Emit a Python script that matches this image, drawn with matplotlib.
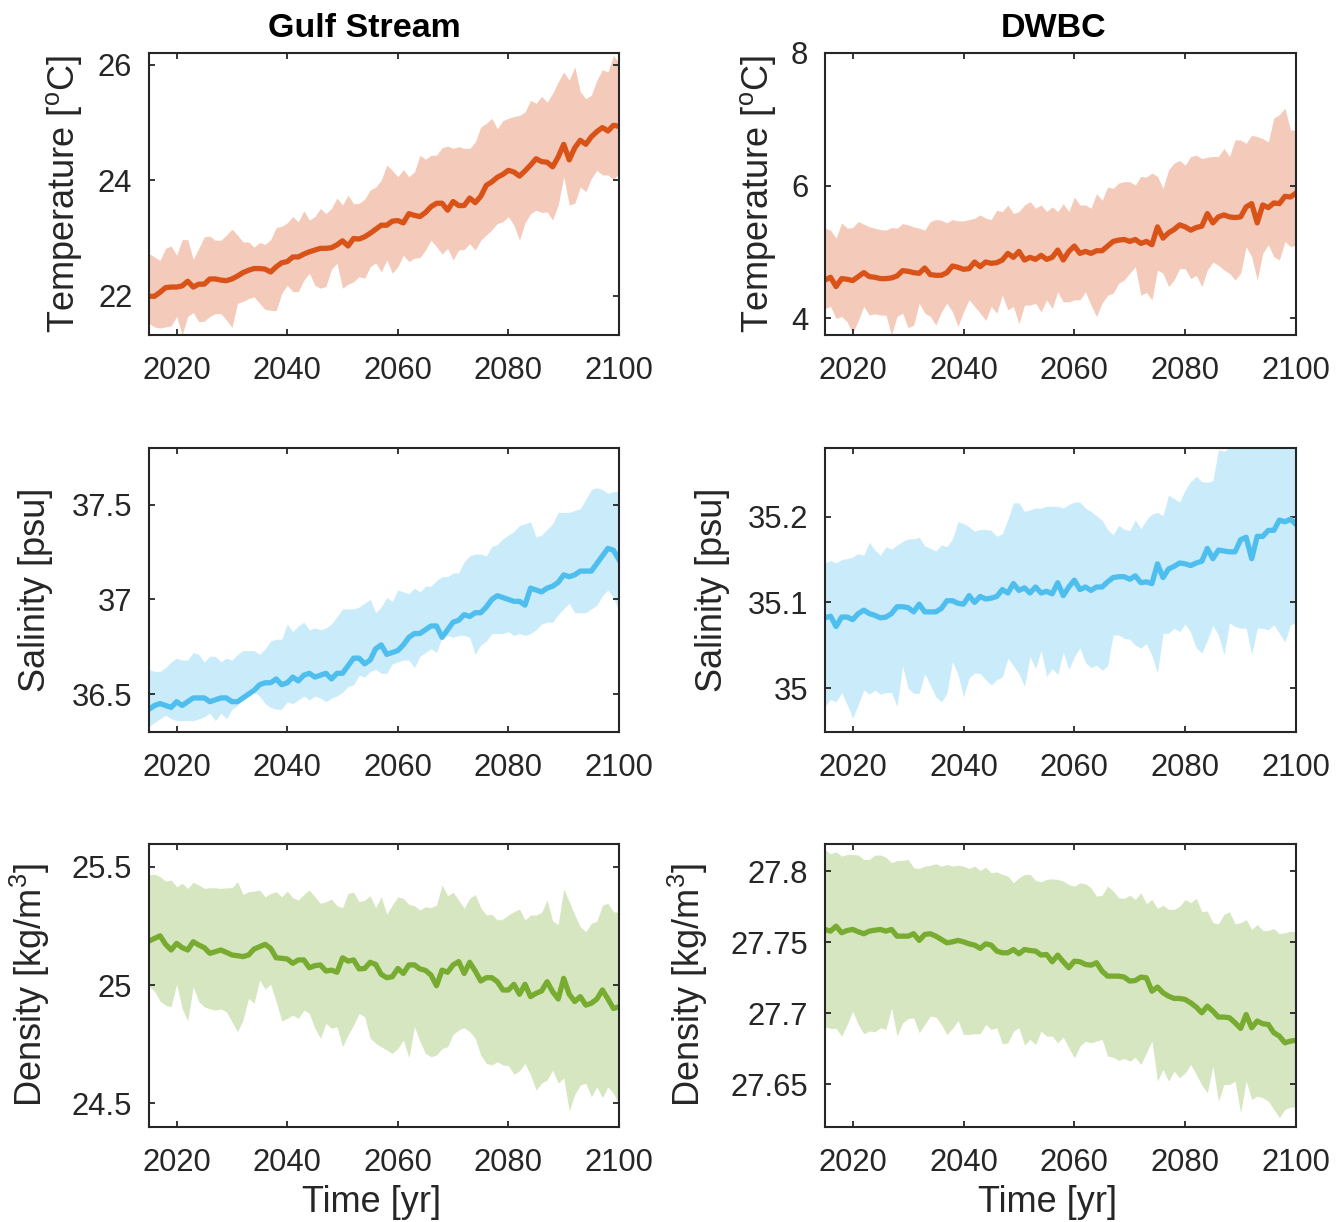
import numpy as np
import matplotlib
matplotlib.use('Agg')
import matplotlib.pyplot as plt
from matplotlib.ticker import FuncFormatter

plt.rcParams['font.family'] = ['Liberation Sans', 'DejaVu Sans']
plt.rcParams['mathtext.fontset'] = 'custom'
plt.rcParams['mathtext.rm'] = 'Liberation Sans'
plt.rcParams['mathtext.it'] = 'Liberation Sans'

years = np.arange(2015, 2101)

# Gulf Stream temperature
gs_temp_mean = [21.99, 21.99, 22.06, 22.14, 22.15, 22.15, 22.17, 22.25, 22.15, 22.20,
                22.20, 22.29, 22.29, 22.27, 22.26, 22.29, 22.34, 22.40, 22.44, 22.47,
                22.47, 22.46, 22.41, 22.50, 22.57, 22.59, 22.67, 22.67, 22.72, 22.76,
                22.79, 22.82, 22.82, 22.83, 22.88, 22.95, 22.86, 22.99, 22.98, 23.02,
                23.08, 23.15, 23.22, 23.22, 23.29, 23.30, 23.26, 23.42, 23.39, 23.37,
                23.44, 23.54, 23.60, 23.60, 23.48, 23.63, 23.56, 23.56, 23.69, 23.61,
                23.72, 23.91, 23.97, 24.05, 24.10, 24.17, 24.14, 24.07, 24.16, 24.26,
                24.37, 24.32, 24.31, 24.23, 24.40, 24.62, 24.35, 24.56, 24.69, 24.62,
                24.75, 24.84, 24.91, 24.85, 24.95, 24.93]
gs_temp_hi = [22.73, 22.67, 22.61, 22.82, 22.86, 22.70, 22.97, 22.97, 22.63, 22.82,
              23.02, 23.03, 22.96, 22.96, 23.05, 23.15, 23.05, 22.93, 22.93, 22.84,
              22.92, 22.89, 22.97, 23.18, 23.20, 23.26, 23.37, 23.28, 23.47, 23.31,
              23.37, 23.51, 23.42, 23.51, 23.69, 23.57, 23.74, 23.59, 23.60, 23.67,
              23.83, 23.88, 24.00, 24.26, 24.17, 24.06, 24.18, 24.06, 24.14, 24.43,
              24.36, 24.43, 24.43, 24.56, 24.59, 24.55, 24.58, 24.55, 24.55, 24.66,
              24.92, 24.98, 25.07, 24.89, 25.03, 25.07, 25.10, 25.12, 25.18, 25.38,
              25.33, 25.45, 25.35, 25.50, 25.70, 25.87, 25.73, 25.96, 25.53, 25.41,
              25.47, 25.73, 25.91, 25.87, 26.16, 26.02]
gs_temp_lo = [21.52, 21.46, 21.44, 21.46, 21.48, 21.64, 21.32, 21.64, 21.71, 21.55,
              21.56, 21.64, 21.69, 21.69, 21.58, 21.45, 21.87, 21.90, 21.95, 21.98,
              21.87, 21.76, 21.75, 21.74, 22.04, 22.18, 22.07, 22.07, 22.27, 22.39,
              22.18, 22.13, 22.16, 22.46, 22.56, 22.13, 22.20, 22.24, 22.33, 22.30,
              22.50, 22.57, 22.41, 22.62, 22.39, 22.50, 22.70, 22.59, 22.65, 22.66,
              22.79, 22.96, 22.85, 22.72, 22.82, 22.62, 22.79, 22.80, 22.90, 22.79,
              22.96, 23.05, 23.14, 23.25, 23.28, 23.37, 23.22, 22.96, 23.26, 23.42,
              23.48, 23.44, 23.45, 23.31, 23.57, 24.06, 23.57, 23.60, 23.88, 23.80,
              24.03, 24.17, 24.09, 24.09, 24.01, 24.12]

# DWBC temperature
dw_temp_mean = [4.58, 4.62, 4.48, 4.60, 4.59, 4.57, 4.63, 4.69, 4.63, 4.62,
                4.60, 4.60, 4.61, 4.64, 4.72, 4.71, 4.69, 4.68, 4.76, 4.66,
                4.65, 4.65, 4.69, 4.79, 4.77, 4.74, 4.75, 4.85, 4.78, 4.85,
                4.83, 4.84, 4.88, 4.98, 4.92, 5.01, 4.88, 4.92, 4.89, 4.95,
                4.89, 4.92, 5.03, 4.88, 5.01, 5.09, 4.98, 5.01, 4.98, 5.02,
                5.02, 5.09, 5.16, 5.18, 5.19, 5.16, 5.19, 5.13, 5.16, 5.11,
                5.38, 5.21, 5.29, 5.34, 5.41, 5.38, 5.33, 5.37, 5.39, 5.58,
                5.44, 5.53, 5.56, 5.53, 5.52, 5.53, 5.68, 5.73, 5.44, 5.71,
                5.67, 5.74, 5.73, 5.84, 5.83, 5.89]
dw_temp_hi = [5.36, 5.33, 5.21, 5.44, 5.36, 5.37, 5.46, 5.42, 5.38, 5.36,
              5.34, 5.33, 5.37, 5.36, 5.43, 5.41, 5.38, 5.36, 5.33, 5.46,
              5.49, 5.48, 5.44, 5.49, 5.47, 5.47, 5.49, 5.51, 5.56, 5.51,
              5.49, 5.63, 5.61, 5.71, 5.58, 5.61, 5.71, 5.76, 5.66, 5.71,
              5.61, 5.68, 5.61, 5.73, 5.61, 5.83, 5.71, 5.71, 5.66, 5.88,
              5.78, 5.98, 5.96, 6.04, 6.06, 6.06, 6.01, 6.14, 6.13, 6.19,
              6.14, 5.96, 6.24, 6.34, 6.38, 6.31, 6.44, 6.46, 6.41, 6.43,
              6.44, 6.44, 6.56, 6.44, 6.69, 6.69, 6.64, 6.76, 6.74, 6.71,
              6.66, 7.02, 7.07, 7.17, 6.84, 6.84]
dw_temp_lo = [4.15, 4.18, 4.00, 4.03, 3.95, 3.77, 3.97, 4.18, 4.05, 4.07,
              4.05, 4.05, 3.75, 4.03, 4.08, 3.86, 3.90, 4.23, 4.08, 4.03,
              3.90, 4.10, 4.23, 4.10, 3.88, 4.10, 4.28, 4.18, 4.08, 3.97,
              4.18, 4.08, 4.35, 4.13, 4.18, 3.92, 4.20, 4.20, 4.23, 4.10,
              4.28, 4.15, 4.40, 4.25, 4.25, 4.28, 4.28, 4.40, 4.20, 4.03,
              4.23, 4.35, 4.38, 4.53, 4.58, 4.68, 4.78, 4.35, 4.39, 4.28,
              4.73, 4.68, 4.48, 4.58, 4.75, 4.75, 4.60, 4.65, 4.48, 4.73,
              4.85, 4.80, 4.73, 4.68, 4.58, 4.68, 5.08, 4.93, 4.58, 4.98,
              5.11, 4.93, 4.88, 5.16, 5.08, 5.11]

# Gulf Stream salinity
gs_sal_mean = [36.42, 36.44, 36.45, 36.44, 36.43, 36.46, 36.44, 36.46, 36.48, 36.48,
               36.48, 36.46, 36.47, 36.48, 36.48, 36.46, 36.46, 36.48, 36.50, 36.52,
               36.55, 36.56, 36.56, 36.58, 36.55, 36.56, 36.59, 36.57, 36.60, 36.61,
               36.59, 36.60, 36.61, 36.58, 36.61, 36.61, 36.65, 36.69, 36.69, 36.66,
               36.68, 36.74, 36.76, 36.71, 36.72, 36.73, 36.76, 36.80, 36.82, 36.82,
               36.84, 36.86, 36.86, 36.80, 36.84, 36.88, 36.89, 36.92, 36.91, 36.93,
               36.93, 36.96, 37.00, 37.02, 37.01, 37.00, 36.99, 36.99, 36.97, 37.06,
               37.05, 37.04, 37.06, 37.07, 37.09, 37.13, 37.12, 37.13, 37.15, 37.15,
               37.15, 37.19, 37.23, 37.27, 37.26, 37.21]
gs_sal_hi = [36.63, 36.62, 36.62, 36.64, 36.67, 36.69, 36.68, 36.68, 36.72, 36.71,
             36.67, 36.70, 36.70, 36.67, 36.69, 36.68, 36.71, 36.73, 36.73, 36.73,
             36.71, 36.74, 36.78, 36.79, 36.79, 36.87, 36.83, 36.86, 36.88, 36.84,
             36.85, 36.84, 36.85, 36.87, 36.91, 36.95, 36.95, 36.95, 36.96, 36.98,
             37.00, 36.93, 36.96, 37.01, 36.99, 37.05, 37.04, 37.03, 37.06, 37.04,
             37.07, 37.07, 37.10, 37.12, 37.12, 37.14, 37.14, 37.20, 37.23, 37.24,
             37.24, 37.23, 37.28, 37.29, 37.32, 37.34, 37.36, 37.39, 37.40, 37.41,
             37.33, 37.34, 37.37, 37.40, 37.46, 37.46, 37.46, 37.47, 37.48, 37.53,
             37.58, 37.59, 37.58, 37.56, 37.57, 37.57]
gs_sal_lo = [36.33, 36.35, 36.37, 36.39, 36.37, 36.36, 36.36, 36.36, 36.36, 36.37,
             36.38, 36.40, 36.36, 36.40, 36.37, 36.42, 36.44, 36.49, 36.52, 36.51,
             36.49, 36.45, 36.43, 36.42, 36.42, 36.46, 36.45, 36.47, 36.49, 36.47,
             36.49, 36.48, 36.46, 36.48, 36.49, 36.51, 36.54, 36.55, 36.60, 36.59,
             36.62, 36.63, 36.61, 36.61, 36.66, 36.67, 36.68, 36.68, 36.64, 36.70,
             36.72, 36.74, 36.72, 36.80, 36.81, 36.80, 36.81, 36.81, 36.80, 36.71,
             36.76, 36.78, 36.82, 36.82, 36.82, 36.83, 36.81, 36.82, 36.81, 36.82,
             36.84, 36.87, 36.88, 36.88, 36.92, 36.95, 36.98, 36.93, 36.93, 36.93,
             36.95, 36.97, 37.02, 37.05, 37.01, 36.94]

# DWBC salinity
dw_sal_mean = [35.082, 35.084, 35.072, 35.083, 35.083, 35.080, 35.087, 35.091, 35.087, 35.085,
               35.082, 35.083, 35.087, 35.095, 35.095, 35.094, 35.089, 35.098, 35.089, 35.089,
               35.089, 35.093, 35.102, 35.102, 35.099, 35.098, 35.108, 35.100, 35.107, 35.104,
               35.105, 35.107, 35.115, 35.111, 35.122, 35.114, 35.117, 35.111, 35.118, 35.111,
               35.113, 35.110, 35.123, 35.108, 35.118, 35.126, 35.115, 35.118, 35.114, 35.118,
               35.118, 35.124, 35.129, 35.130, 35.130, 35.127, 35.131, 35.123, 35.124, 35.122,
               35.145, 35.129, 35.139, 35.142, 35.146, 35.145, 35.143, 35.146, 35.148, 35.163,
               35.151, 35.161, 35.160, 35.159, 35.159, 35.173, 35.176, 35.151, 35.177, 35.177,
               35.184, 35.184, 35.196, 35.194, 35.197, 35.191]
dw_sal_hi = [35.146, 35.149, 35.146, 35.150, 35.151, 35.153, 35.157, 35.155, 35.170, 35.161,
             35.155, 35.165, 35.162, 35.167, 35.171, 35.174, 35.174, 35.176, 35.166, 35.163,
             35.160, 35.167, 35.165, 35.174, 35.194, 35.192, 35.188, 35.183, 35.185, 35.185,
             35.184, 35.177, 35.180, 35.197, 35.216, 35.216, 35.206, 35.208, 35.210, 35.210,
             35.212, 35.212, 35.212, 35.210, 35.214, 35.217, 35.217, 35.210, 35.206, 35.201,
             35.196, 35.185, 35.179, 35.190, 35.185, 35.184, 35.196, 35.186, 35.196, 35.203,
             35.205, 35.201, 35.225, 35.221, 35.217, 35.231, 35.241, 35.247, 35.241, 35.240,
             35.242, 35.278, 35.276, 35.280, 35.285, 35.290, 35.300, 35.310, 35.300, 35.310,
             35.320, 35.310, 35.320, 35.310, 35.320, 35.310]
dw_sal_lo = [34.979, 34.987, 34.984, 34.995, 34.981, 34.965, 34.981, 34.998, 34.993, 34.998,
             34.993, 34.995, 34.995, 34.979, 35.026, 35.000, 34.994, 34.994, 35.017, 35.004,
             34.990, 34.984, 34.994, 35.031, 35.016, 34.990, 35.012, 35.018, 35.017, 35.010,
             35.004, 35.010, 35.013, 35.035, 35.026, 35.017, 35.002, 35.037, 35.023, 35.044,
             35.014, 35.023, 35.016, 35.042, 35.022, 35.037, 35.047, 35.030, 35.024, 35.027,
             35.021, 35.026, 35.062, 35.062, 35.058, 35.057, 35.050, 35.047, 35.052, 35.038,
             35.018, 35.064, 35.064, 35.070, 35.066, 35.075, 35.065, 35.047, 35.041, 35.056,
             35.073, 35.062, 35.039, 35.076, 35.072, 35.070, 35.070, 35.039, 35.070, 35.070,
             35.068, 35.074, 35.064, 35.054, 35.074, 35.076]

# Gulf Stream density
gs_dens_mean = [25.186, 25.197, 25.208, 25.172, 25.148, 25.176, 25.158, 25.148, 25.183, 25.169,
                25.158, 25.134, 25.141, 25.148, 25.138, 25.127, 25.124, 25.120, 25.127, 25.152,
                25.162, 25.172, 25.155, 25.115, 25.113, 25.110, 25.092, 25.106, 25.106, 25.073,
                25.082, 25.085, 25.059, 25.063, 25.054, 25.115, 25.101, 25.106, 25.068, 25.070,
                25.096, 25.087, 25.045, 25.031, 25.035, 25.070, 25.049, 25.085, 25.085, 25.068,
                25.062, 25.042, 24.997, 25.063, 25.054, 25.085, 25.099, 25.049, 25.096, 25.059,
                25.017, 25.031, 25.031, 25.014, 24.979, 24.979, 25.003, 24.961, 25.003, 24.951,
                24.965, 24.975, 25.014, 24.972, 24.941, 25.028, 24.961, 24.930, 24.951, 24.915,
                24.923, 24.941, 24.979, 24.941, 24.901, 24.908]
gs_dens_hi = [25.465, 25.468, 25.458, 25.439, 25.444, 25.415, 25.430, 25.408, 25.434, 25.423,
              25.408, 25.411, 25.411, 25.408, 25.411, 25.411, 25.437, 25.383, 25.394, 25.397,
              25.401, 25.373, 25.387, 25.394, 25.373, 25.397, 25.369, 25.359, 25.383, 25.401,
              25.373, 25.345, 25.352, 25.363, 25.335, 25.327, 25.387, 25.392, 25.352, 25.359,
              25.377, 25.327, 25.373, 25.299, 25.338, 25.373, 25.366, 25.341, 25.335, 25.317,
              25.331, 25.327, 25.338, 25.423, 25.377, 25.392, 25.359, 25.324, 25.366, 25.383,
              25.327, 25.296, 25.299, 25.275, 25.279, 25.296, 25.310, 25.321, 25.275, 25.296,
              25.296, 25.307, 25.359, 25.270, 25.256, 25.406, 25.352, 25.296, 25.246, 25.225,
              25.261, 25.270, 25.338, 25.345, 25.310, 25.307]
gs_dens_lo = [24.993, 24.975, 24.932, 24.915, 24.908, 25.003, 24.901, 24.848, 24.993, 24.930,
              24.908, 24.899, 24.894, 24.899, 24.887, 24.845, 24.803, 24.852, 24.944, 24.923,
              25.021, 24.983, 25.003, 24.930, 24.848, 24.859, 24.873, 24.859, 24.894, 24.880,
              24.817, 24.775, 24.838, 24.817, 24.824, 24.739, 24.789, 24.831, 24.880, 24.866,
              24.775, 24.754, 24.739, 24.725, 24.711, 24.732, 24.768, 24.693, 24.824, 24.761,
              24.711, 24.697, 24.704, 24.732, 24.739, 24.792, 24.810, 24.820, 24.803, 24.775,
              24.704, 24.669, 24.662, 24.676, 24.662, 24.659, 24.623, 24.637, 24.669, 24.620,
              24.556, 24.585, 24.599, 24.641, 24.585, 24.608, 24.468, 24.538, 24.577, 24.585,
              24.528, 24.570, 24.524, 24.570, 24.542, 24.496]

# DWBC density
dw_dens_mean = [27.7589, 27.7577, 27.7612, 27.7566, 27.7582, 27.7589, 27.7573, 27.7559, 27.7577, 27.7584,
                27.7589, 27.7577, 27.7589, 27.7542, 27.7542, 27.7542, 27.7559, 27.7512, 27.7554, 27.7559,
                27.7542, 27.7519, 27.7495, 27.7502, 27.7512, 27.7502, 27.7488, 27.7479, 27.7456, 27.7488,
                27.7479, 27.7437, 27.7425, 27.7425, 27.7448, 27.7418, 27.7448, 27.7441, 27.7437, 27.7409,
                27.7413, 27.7362, 27.7409, 27.7362, 27.7320, 27.7366, 27.7362, 27.7343, 27.7338, 27.7355,
                27.7296, 27.7261, 27.7261, 27.7261, 27.7254, 27.7226, 27.7230, 27.7254, 27.7249, 27.7155,
                27.7184, 27.7144, 27.7120, 27.7104, 27.7104, 27.7097, 27.7073, 27.7043, 27.7003, 27.7050,
                27.7015, 27.6973, 27.6973, 27.6968, 27.6933, 27.6893, 27.6991, 27.6898, 27.6945, 27.6926,
                27.6921, 27.6863, 27.6839, 27.6792, 27.6804, 27.6809]
dw_dens_hi = [27.8151, 27.8121, 27.8135, 27.8105, 27.8116, 27.8116, 27.8112, 27.8081, 27.8081, 27.8112,
              27.8112, 27.8098, 27.8058, 27.8074, 27.8074, 27.8081, 27.8023, 27.8018, 27.8034, 27.8041,
              27.8051, 27.8034, 27.8046, 27.8034, 27.8041, 27.8034, 27.8018, 27.8034, 27.8004, 27.8027,
              27.7987, 27.7994, 27.7976, 27.7964, 27.7917, 27.7952, 27.7976, 27.7976, 27.7934, 27.7924,
              27.7941, 27.7945, 27.7941, 27.7929, 27.7905, 27.7894, 27.7917, 27.7910, 27.7882, 27.7823,
              27.7830, 27.7894, 27.7859, 27.7812, 27.7807, 27.7830, 27.7800, 27.7847, 27.7770, 27.7800,
              27.7737, 27.7760, 27.7730, 27.7730, 27.7753, 27.7800, 27.7777, 27.7807, 27.7713, 27.7718,
              27.7636, 27.7629, 27.7695, 27.7713, 27.7629, 27.7636, 27.7659, 27.7589, 27.7624, 27.7582,
              27.7582, 27.7596, 27.7559, 27.7566, 27.7577, 27.7573]
dw_dens_lo = [27.6902, 27.6893, 27.6893, 27.6839, 27.6921, 27.7015, 27.6921, 27.6856, 27.6874, 27.6870,
              27.6898, 27.6886, 27.7038, 27.6839, 27.6933, 27.6963, 27.6968, 27.6863, 27.6921, 27.6980,
              27.6973, 27.6921, 27.6851, 27.6893, 27.6949, 27.6851, 27.6851, 27.6856, 27.6856, 27.6921,
              27.6886, 27.6898, 27.6785, 27.6792, 27.6874, 27.6898, 27.6776, 27.6816, 27.6781, 27.6874,
              27.6839, 27.6839, 27.6792, 27.6832, 27.6757, 27.6687, 27.6769, 27.6804, 27.6792, 27.6804,
              27.6816, 27.6698, 27.6691, 27.6668, 27.6682, 27.6663, 27.6691, 27.6640, 27.6722, 27.6804,
              27.6523, 27.6605, 27.6523, 27.6593, 27.6546, 27.6581, 27.6640, 27.6570, 27.6495, 27.6441,
              27.6628, 27.6382, 27.6499, 27.6499, 27.6523, 27.6300, 27.6523, 27.6394, 27.6417, 27.6406,
              27.6382, 27.6324, 27.6265, 27.6324, 27.6340, 27.6340]

xticks = [2020, 2040, 2060, 2080, 2100]
col_titles = ['Gulf Stream', 'DWBC']

INK = '#262626'
TEMP_C, TEMP_F = '#D95319', '#F4CBBA'
SAL_C, SAL_F = '#4DBEEE', '#CAECFA'
DENS_C, DENS_F = '#77AC30', '#D6E6C1'

W, H = 1339, 1222
fig = plt.figure(figsize=(W / 100, H / 100), dpi=100)


def px_axes(left, top, right, bottom):
    return fig.add_axes([left / W, 1 - bottom / H, (right - left) / W, (bottom - top) / H])


def panel(ax, mean, lo, hi, color, fcolor, ylim, yticks, ylabel, labx, xlabel=False):
    ax.fill_between(years, lo, hi, color=fcolor, linewidth=0)
    ax.plot(years, mean, color=color, linewidth=3.8, solid_joinstyle='round')
    ax.set_xlim(2015, 2100)
    ax.set_ylim(*ylim)
    ax.set_xticks(xticks)
    ax.set_yticks(yticks)
    ax.yaxis.set_major_formatter(FuncFormatter(lambda v, p: '{:g}'.format(round(v, 4))))
    ax.tick_params(direction='in', length=4.5, width=1.3, colors=INK,
                   labelsize=22.3, top=True, right=True)
    ax.tick_params(axis='x', pad=15)
    ax.tick_params(axis='y', pad=12)
    for s in ax.spines.values():
        s.set_linewidth(1.5)
        s.set_color(INK)
    ax.set_ylabel(ylabel, fontsize=26, color=INK)
    ax.yaxis.set_label_coords(labx, 0.5)
    if xlabel:
        ax.set_xlabel('Time [yr]', fontsize=26, color=INK)
        ax.xaxis.set_label_coords(0.473, -0.205)
        ax.xaxis.label.set_va('top')


L = (149, 619)
R = (825, 1296)
rows = [(53, 335), (448, 732), (844, 1127)]

temp_label = 'Temperature [$^{\\mathrm{o}}$C]'
sal_label = 'Salinity [psu]'
dens_label = 'Density [kg/m$^{3}$]'

ax = px_axes(L[0], rows[0][0], L[1], rows[0][1])
panel(ax, gs_temp_mean, gs_temp_lo, gs_temp_hi, TEMP_C, TEMP_F,
      (21.32, 26.2), [22, 24, 26], temp_label, -0.138)
ax = px_axes(R[0], rows[0][0], R[1], rows[0][1])
panel(ax, dw_temp_mean, dw_temp_lo, dw_temp_hi, TEMP_C, TEMP_F,
      (3.75, 8), [4, 6, 8], temp_label, -0.100)

ax = px_axes(L[0], rows[1][0], L[1], rows[1][1])
panel(ax, gs_sal_mean, gs_sal_lo, gs_sal_hi, SAL_C, SAL_F,
      (36.3, 37.8), [36.5, 37, 37.5], sal_label, -0.204)
ax = px_axes(R[0], rows[1][0], R[1], rows[1][1])
panel(ax, dw_sal_mean, dw_sal_lo, dw_sal_hi, SAL_C, SAL_F,
      (34.949, 35.28), [35, 35.1, 35.2], sal_label, -0.202)

ax = px_axes(L[0], rows[2][0], L[1], rows[2][1])
panel(ax, gs_dens_mean, gs_dens_lo, gs_dens_hi, DENS_C, DENS_F,
      (24.4, 25.596), [24.5, 25, 25.5], dens_label, -0.206, xlabel=True)
ax = px_axes(R[0], rows[2][0], R[1], rows[2][1])
panel(ax, dw_dens_mean, dw_dens_lo, dw_dens_hi, DENS_C, DENS_F,
      (27.62, 27.819), [27.65, 27.7, 27.75, 27.8], dens_label, -0.244, xlabel=True)

fig.text(364 / W, 1 - 37 / H, col_titles[0], ha='center', va='baseline',
         fontsize=24.5, fontweight='bold', color='black')
fig.text(1054 / W, 1 - 37 / H, col_titles[1], ha='center', va='baseline',
         fontsize=24.5, fontweight='bold', color='black')

fig.savefig('out.png', dpi=100)
